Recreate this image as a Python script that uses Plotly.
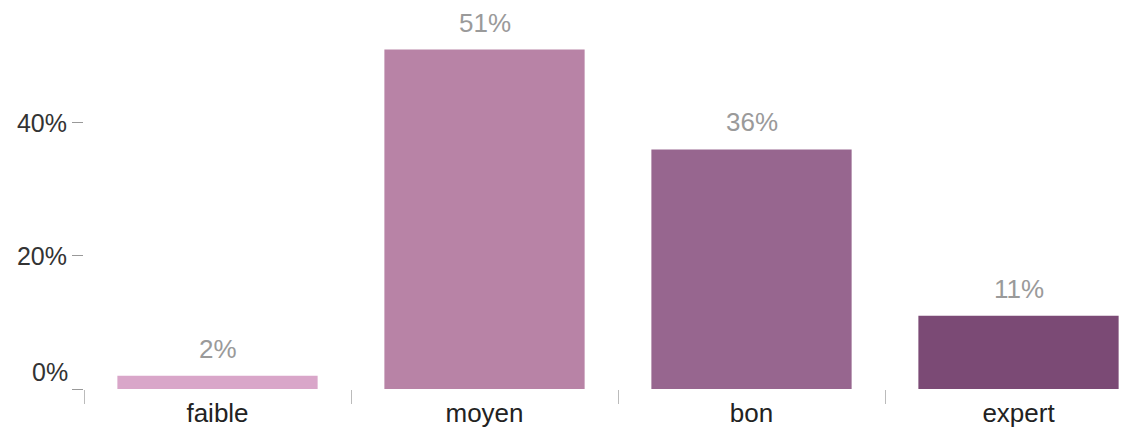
import plotly.graph_objects as go

categories = ["faible", "moyen", "bon", "expert"]
values = [0.02, 0.51, 0.36, 0.11]
colors = ["#d9a6c9", "#b883a6", "#97668f", "#7b4a75"]
y_tickvals = [0, 0.2, 0.4]
y_ticktext = ["", "20%", "40%"]

FONT = "Liberation Sans, Arial, sans-serif"

fig = go.Figure()
fig.add_trace(go.Bar(
    x=categories, y=values,
    marker=dict(color=colors, line=dict(width=0)),
    hoverinfo="skip",
))

for c, v in zip(categories, values):
    fig.add_annotation(
        x=c, y=v, text=f"{v*100:.0f}%", showarrow=False,
        yanchor="bottom", yshift=10,
        font=dict(family=FONT, size=26, color="#9a9a9a"),
    )

# bottom tick label drawn slightly above its tick, as in the reference
fig.add_annotation(
    xref="paper", yref="y", x=0, y=0, xanchor="right", xshift=-14, yshift=17,
    text="0%", showarrow=False,
    font=dict(family=FONT, size=25, color="#333333"),
)

# edge of a (cropped) legend box at the right
fig.add_shape(type="line", xref="paper", yref="paper",
              x0=0.9975, x1=0.9975, y0=0.426, y1=0.79,
              line=dict(color="#8a70b0", width=2))

fig.update_layout(
    width=1148, height=427,
    margin=dict(l=76, r=8, t=15, b=46),
    paper_bgcolor="white", plot_bgcolor="white",
    showlegend=False,
    bargap=0.25,
    font=dict(family=FONT),
    xaxis=dict(
        range=[-0.5, 3.485],
        showgrid=False, zeroline=False, showline=False,
        ticks="outside", tickson="boundaries", ticklen=14, tickwidth=1,
        tickcolor="#bbbbbb", ticklabelstandoff=6,
        tickfont=dict(family=FONT, size=26, color="#222222"),
    ),
    yaxis=dict(
        range=[0, 0.55],
        tickvals=y_tickvals, ticktext=y_ticktext,
        showgrid=False, zeroline=False, showline=False,
        ticks="outside", ticklen=11, tickwidth=1, tickcolor="#999999",
        tickfont=dict(family=FONT, size=25, color="#333333"),
    ),
)

fig.write_html("out.html")
